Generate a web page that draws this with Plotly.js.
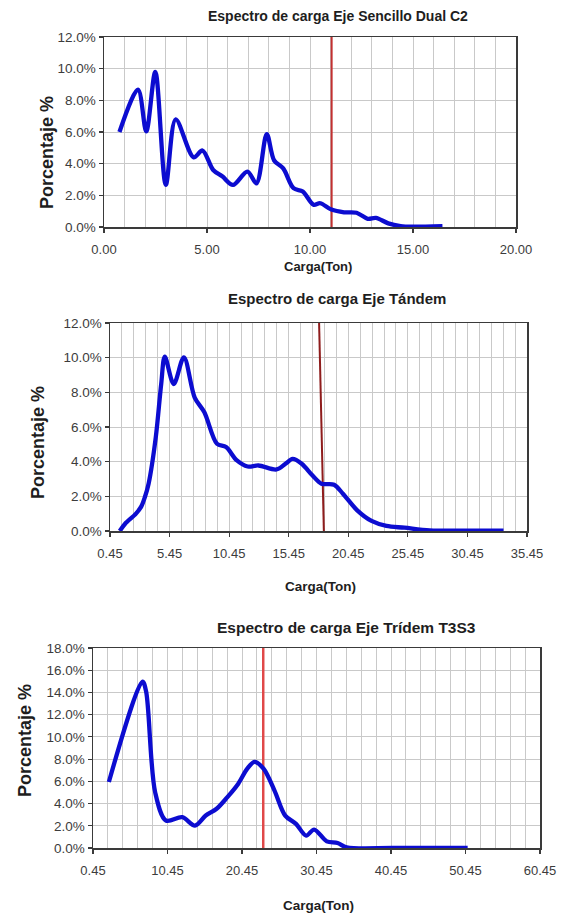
<!DOCTYPE html>
<html>
<head>
<meta charset="utf-8">
<script src="https://cdn.plot.ly/plotly-3.0.1.min.js"></script>
<style>
html,body{margin:0;padding:0;background:#fff;}
#chart{width:562px;height:914px;}
</style>
</head>
<body>
<div id="chart"></div>
<script>
// ---- Chart 1: Eje Sencillo Dual C2 ----
const c1Title = "Espectro de carga Eje Sencillo Dual C2";
const c1X = [0.75,1.65,2.05,2.49,3.0,3.48,4.35,4.78,5.3,5.74,6.26,6.96,7.4,7.9,8.26,8.7,9.2,9.65,10.17,10.5,11.04,11.65,12.26,12.8,13.2,13.8,14.4,14.96,16.43];
const c1Y = [6.0,8.67,6.04,9.8,2.66,6.8,4.4,4.83,3.6,3.2,2.66,3.5,2.76,5.87,4.2,3.7,2.45,2.24,1.41,1.5,1.1,0.93,0.9,0.52,0.58,0.23,0.06,0.02,0.06];
const c1LimitX = [11.05, 11.05];
const c1LimitY = [0, 12];

// ---- Chart 2: Eje Tándem ----
const c2Title = "Espectro de carga Eje Tándem";
const c2X = [1.27,1.72,2.63,3.08,3.38,3.69,4.29,4.75,5.05,5.8,6.65,7.56,8.37,9.43,10.19,11.1,12.0,12.91,14.42,15.18,15.78,16.54,17.45,18.2,19.26,20.0,21.2,22.4,23.65,25.16,27.28,30.3,33.48];
const c2Y = [0,0.42,1.0,1.42,1.96,2.73,5.4,8.5,10.06,8.48,10.02,7.7,6.85,5.03,4.84,4.07,3.72,3.78,3.55,3.88,4.16,3.88,3.2,2.73,2.67,2.15,1.19,0.58,0.29,0.19,0.04,0.02,0.02];
const c2LimitX = [18.0, 18.4];
const c2LimitY = [12, 0];

// ---- Chart 3: Eje Trídem T3S3 ----
const c3Title = "Espectro de carga Eje Trídem T3S3";
const c3X = [2.58,7.09,7.58,8.79,10.25,12.43,14.13,15.58,17.04,18.49,19.95,21.16,22.13,23.34,24.8,26.25,27.7,29.06,30.13,31.83,33.28,34.5,40.8,50.74];
const c3Y = [5.94,14.98,14.08,5.03,2.47,2.77,2.02,2.92,3.53,4.58,5.79,7.14,7.75,7.14,5.19,2.92,2.17,1.12,1.66,0.6,0.45,0.06,0,0];
const c3LimitX = [23.3, 23.3];
const c3LimitY = [0, 18];

const yTitleText = "Porcentaje %";
const xTitleText = "Carga(Ton)";

const W = 562, H = 914;
const px = v => v / W;
const py = v => 1 - v / H;

const FONT = "Liberation Sans, Arial, sans-serif";
const blue = "#0c0cd0";
const gridC = "#c9c9c9";
const lineC = "#3a3a3a";

function curve(x, y, xa, ya) {
  return {x: x, y: y, xaxis: xa, yaxis: ya, type: "scatter", mode: "lines",
    line: {color: blue, width: 4.3, shape: "spline", smoothing: 0.9}, hoverinfo: "skip"};
}
function limit(x, y, xa, ya, color, w) {
  return {x: x, y: y, xaxis: xa, yaxis: ya, type: "scatter", mode: "lines",
    line: {color: color, width: w}, hoverinfo: "skip"};
}

const data = [
  limit(c1LimitX, c1LimitY, "x", "y", "#c23030", 2),
  curve(c1X, c1Y, "x", "y"),
  limit(c2LimitX, c2LimitY, "x2", "y2", "#8e1c1c", 2),
  curve(c2X, c2Y, "x2", "y2"),
  limit(c3LimitX, c3LimitY, "x3", "y3", "#e04848", 2.5),
  curve(c3X, c3Y, "x3", "y3")
];

function xax(domain, range, tick0, dtick, minorD, fmt) {
  return {domain: domain, range: range, tick0: tick0, dtick: dtick, tickformat: fmt,
    showgrid: true, gridcolor: gridC, gridwidth: 1, zeroline: false,
    showline: true, mirror: true, linecolor: lineC, linewidth: 1.5,
    ticks: "outside", ticklen: 4, tickcolor: lineC, tickwidth: 1.2,
    ticklabelstandoff: 6,
    minor: {tick0: tick0, dtick: minorD, showgrid: true, gridcolor: gridC, gridwidth: 1, ticks: ""},
    tickfont: {family: FONT, size: 13, color: "#3c3c3c"}, fixedrange: true};
}
function yax(domain, range, dtick, anchor) {
  return {domain: domain, range: range, dtick: dtick, tickformat: ".1f", ticksuffix: "%",
    anchor: anchor, showgrid: true, gridcolor: gridC, gridwidth: 1, zeroline: false,
    showline: true, mirror: true, linecolor: lineC, linewidth: 1.5,
    ticks: "outside", ticklen: 4, tickcolor: lineC, tickwidth: 1.2,
    tickfont: {family: FONT, size: 13.5, color: "#3c3c3c"}, fixedrange: true};
}

function ann(text, x, y, size, angle) {
  return {text: "<b>" + text + "</b>", xref: "paper", yref: "paper", x: px(x), y: py(y),
    xanchor: "center", yanchor: "middle", showarrow: false, textangle: angle || 0,
    font: {family: FONT, size: size, color: "#1e1e1e"}};
}

const layout = {
  width: W, height: H, margin: {l: 0, r: 0, t: 0, b: 0},
  paper_bgcolor: "#fff", plot_bgcolor: "#fff", showlegend: false, hovermode: false,
  xaxis: Object.assign(xax([px(104), px(516)], [0, 20], 0, 5, 1, ".2f"), {anchor: "y"}),
  yaxis: yax([py(227), py(37)], [0, 12], 2, "x"),
  xaxis2: Object.assign(xax([px(110), px(527)], [0.45, 35.45], 0.45, 5, 1, ".2f"), {anchor: "y2"}),
  yaxis2: yax([py(531), py(323)], [0, 12], 2, "x2"),
  xaxis3: Object.assign(xax([px(93), px(540)], [0.45, 60.45], 0.45, 10, 2, ".2f"), {anchor: "y3"}),
  yaxis3: yax([py(848), py(648)], [0, 18], 2, "x3"),
  annotations: [
    ann(c1Title, 338, 16, 14),
    ann(c2Title, 337, 299, 15),
    ann(c3Title, 346, 627, 15.5),
    ann(yTitleText, 47, 153, 18, -90),
    ann(yTitleText, 38, 443, 18, -90),
    ann(yTitleText, 25, 741, 18, -90),
    ann(xTitleText, 318, 266, 13),
    ann(xTitleText, 320, 586, 13.5),
    ann(xTitleText, 318, 905, 13.5)
  ]
};

Plotly.newPlot("chart", data, layout, {staticPlot: true, displayModeBar: false});
</script>
</body>
</html>
